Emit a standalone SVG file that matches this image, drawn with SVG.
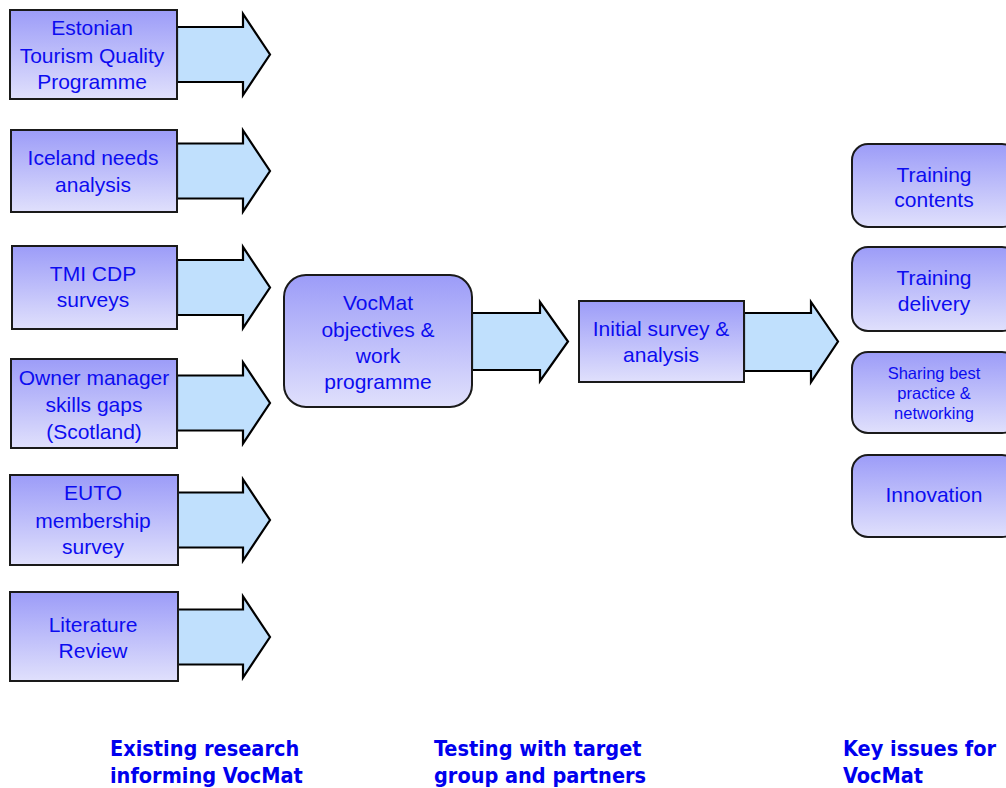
<svg xmlns="http://www.w3.org/2000/svg" width="1006" height="788" viewBox="0 0 1006 788">
<style>
.box{fill:url(#g);stroke:#1a1a1a;stroke-width:2}
.arr{fill:#c0e0fd;stroke:#000;stroke-width:2.2;stroke-linejoin:miter}
.t{font-family:"Liberation Sans",Arial,sans-serif;font-size:21px;fill:#0c0cf0;text-anchor:middle}
.s{font-size:16.5px}
.h{font-family:"DejaVu Sans Condensed","DejaVu Sans",sans-serif;font-weight:bold;font-size:21.5px;fill:#0000ee}
</style>
<defs>
<linearGradient id="g" x1="0" y1="0" x2="0" y2="1">
<stop offset="0" stop-color="#9c9cf8"/>
<stop offset="1" stop-color="#e0e0fc"/>
</linearGradient>
<path id="la" d="M177,-27.5 H243 V-40.5 L270,0 L243,40.5 V27.5 H177 Z"/>
</defs>
<rect width="1006" height="788" fill="#fff"/>
<g id="connectors">
<use href="#la" class="arr" transform="translate(0,54.5)"/>
<use href="#la" class="arr" transform="translate(0,171)"/>
<use href="#la" class="arr" transform="translate(0,287.5)"/>
<use href="#la" class="arr" transform="translate(0,403)"/>
<use href="#la" class="arr" transform="translate(0,520)"/>
<use href="#la" class="arr" transform="translate(0,637)"/>
<path class="arr" d="M472,313 H540 V302 L568,341.5 L540,381 V370 H472 Z"/>
<path class="arr" d="M744,313 H811 V302 L838,341.5 L811,382 V371 H744 Z"/>
</g>
<g id="n1"><rect class="box" x="10" y="10" width="167" height="89"/>
<text class="t" x="92" y="35">Estonian</text><text class="t" x="92" y="63">Tourism Quality</text><text class="t" x="92" y="89">Programme</text></g>
<g id="n2"><rect class="box" x="11" y="130" width="166" height="82"/>
<text class="t" x="93" y="165">Iceland needs</text><text class="t" x="93" y="192">analysis</text></g>
<g id="n3"><rect class="box" x="12" y="246" width="165" height="83"/>
<text class="t" x="93" y="281">TMI CDP</text><text class="t" x="93" y="307">surveys</text></g>
<g id="n4"><rect class="box" x="11" y="359" width="166" height="89"/>
<text class="t" x="94" y="385">Owner manager</text><text class="t" x="94" y="412">skills gaps</text><text class="t" x="94" y="439">(Scotland)</text></g>
<g id="n5"><rect class="box" x="10" y="475" width="168" height="90"/>
<text class="t" x="93" y="500">EUTO</text><text class="t" x="93" y="528">membership</text><text class="t" x="93" y="554">survey</text></g>
<g id="n6"><rect class="box" x="10" y="592" width="168" height="89"/>
<text class="t" x="93" y="632">Literature</text><text class="t" x="93" y="658">Review</text></g>
<g id="n7"><rect class="box" x="284" y="275" width="188" height="132" rx="22"/>
<text class="t" x="378" y="310">VocMat</text><text class="t" x="378" y="337">objectives &amp;</text><text class="t" x="378" y="363">work</text><text class="t" x="378" y="389">programme</text></g>
<g id="n8"><rect class="box" x="579" y="301" width="165" height="81"/>
<text class="t" x="661" y="336">Initial survey &amp;</text><text class="t" x="661" y="362">analysis</text></g>
<g id="n9"><rect class="box" x="852" y="144" width="166" height="83" rx="16"/>
<text class="t" x="934" y="182">Training</text><text class="t" x="934" y="207">contents</text></g>
<g id="n10"><rect class="box" x="852" y="247" width="166" height="84" rx="16"/>
<text class="t" x="934" y="285">Training</text><text class="t" x="934" y="311">delivery</text></g>
<g id="n11"><rect class="box" x="852" y="352" width="166" height="81" rx="16"/>
<text class="t s" x="934" y="379">Sharing best</text><text class="t s" x="934" y="399">practice &amp;</text><text class="t s" x="934" y="419">networking</text></g>
<g id="n12"><rect class="box" x="852" y="455" width="166" height="82" rx="16"/>
<text class="t" x="934" y="502">Innovation</text></g>
<g id="labels">
<text class="h" x="110" y="756">Existing research</text><text class="h" x="110" y="783">informing VocMat</text>
<text class="h" x="434" y="756">Testing with target</text><text class="h" x="434" y="783">group and partners</text>
<text class="h" x="843" y="756">Key issues for</text><text class="h" x="843" y="783">VocMat</text>
</g>
</svg>
